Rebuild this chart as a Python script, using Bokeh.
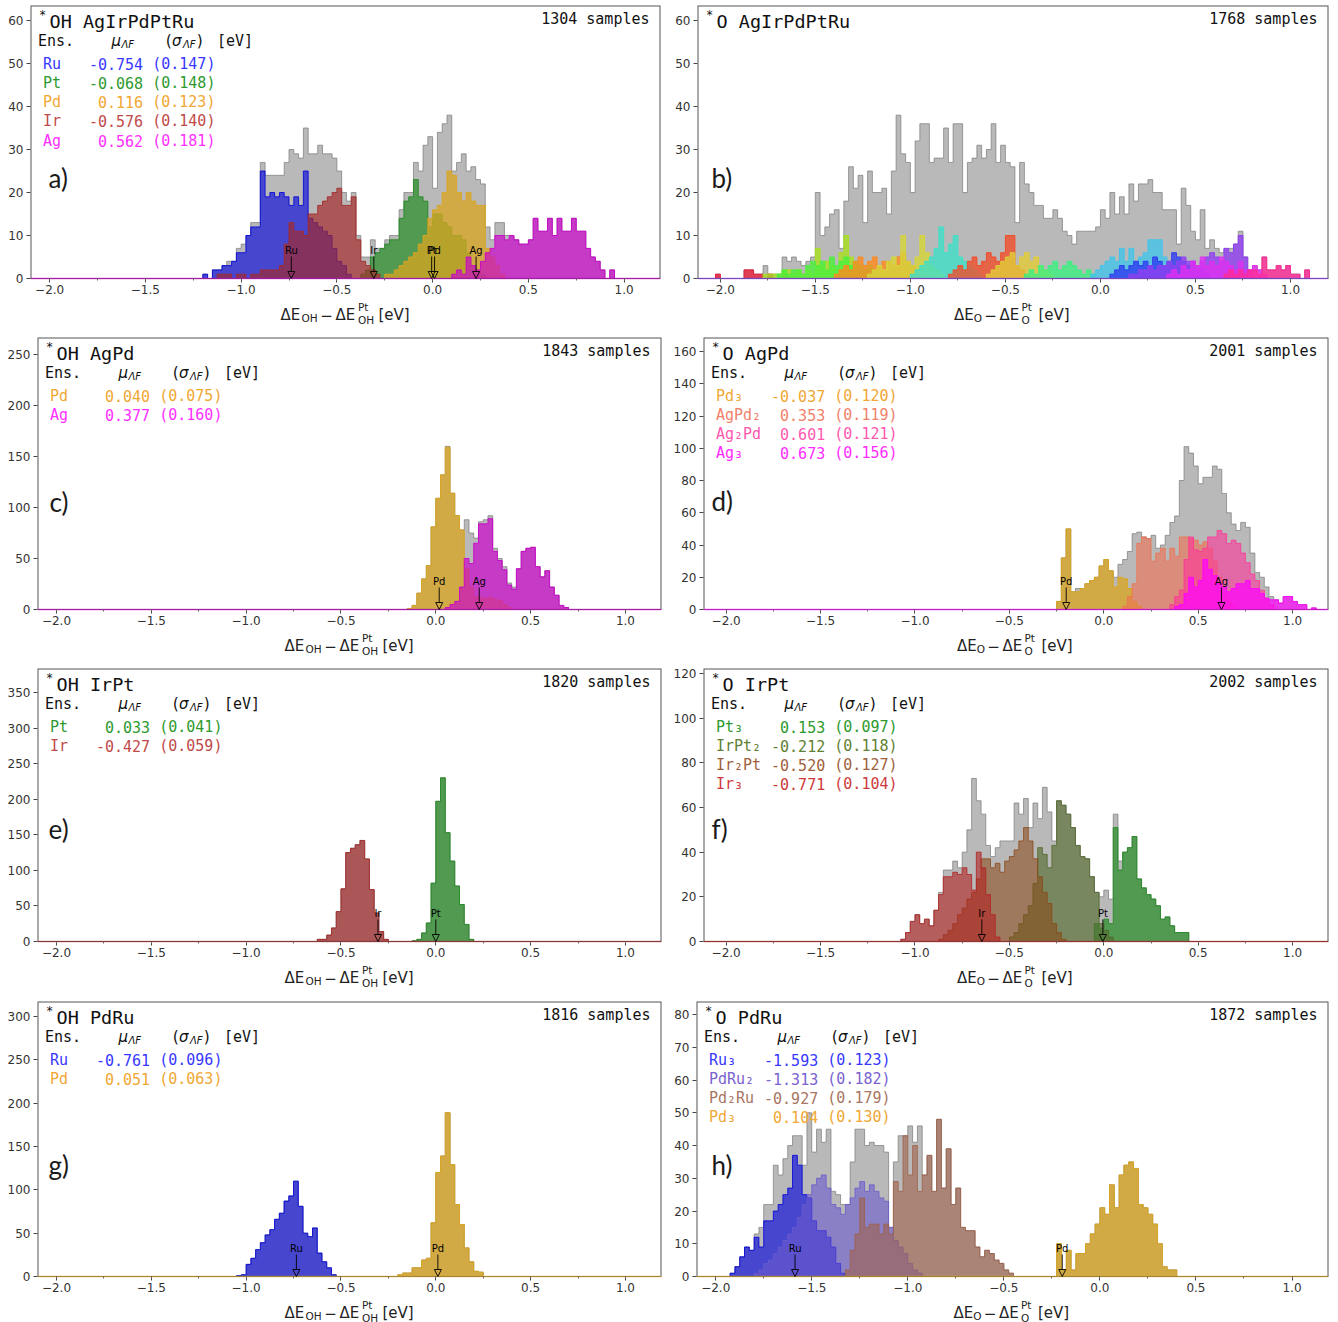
import numpy as np
from bokeh.plotting import figure
from bokeh.layouts import column, row
from bokeh.models import (Range1d, Label, Arrow, NormalHead, FixedTicker,
                          CustomJSTickFormatter)
from bokeh.embed import file_html
from bokeh.resources import INLINE

BIN = 0.025

# ---------------- panel a : *OH AgIrPdPtRu ----------------
A_X0 = -1.2
A_TOTAL = [1,0,2,2,3,4,4,7,8,10, 13,13,27,24,24,24,24,27,30,29,
           28,35,29,29,31,29,29,28,25,20, 18,20,10,5,5,9,7,7,9,10,
           10,16,20,20,27,25,31,33,21,34, 36,38,25,27,29,25,26,23,22,12,
           9,13,13,10,10,9,8,8,9,14, 11,11,14,10,14,11,11,14,11,11,
           7,5,4,2,0,2,0,0]
A_RU_AT = 0
A_RU = [1,0,2,2,3,3,4,6,6,10,12,12,25,19,20,19,20,19,17,19,17,25,14,13,12,11,10,7,4,3,1]
A_PT_AT = 33
A_PT = [1,2,5,6,7,8,9,9,14,18,19,23,19,18,12,15,15,13,12,10,10,9,6,3,2,1]
A_PD_AT = 38
A_PD = [1,1,2,3,4,5,6,8,10,14,16,17,20,25,24,20,18,20,18,17,17,7,5,3,1]
A_IR_AT = 3
A_IR = [1,1,1,0,1,1,0,1,1,2,2,2,2,3,8,13,11,11,10,15,15,17,18,19,20,21,17,17,19,9,4,3,2,1]
A_AG_AT = 52
A_AG = [1,2,1,5,3,2,4,6,7,10,10,9,10,9,8,8,9,14,11,11,14,10,14,11,11,14,11,11,7,5,4,2,0,2]
A_ENS = ["Ru", "Pt", "Pd", "Ir", "Ag"]
A_MU = [-0.754, -0.068, 0.116, -0.576, 0.562]
A_SD = [0.147, 0.148, 0.123, 0.140, 0.181]
A_MARK_NAMES = ["Ru", "Ir", "Pt", "Pd", "Ag"]
A_MARK_X = [-0.738, -0.307, -0.005, 0.010, 0.227]

# ---------------- panel b : *O AgIrPdPtRu ----------------
B_X0 = -2.05
B_TOTAL = [0,1,0,0,0,0,0,2,2,1, 1,3,1,1,1,5,4,5,4,3, 4,5,20,10,12,15,16,7,18,26,
           21,24,13,25,20,20,21,15,25,38, 29,27,20,32,36,36,27,28,28,35,
           27,36,36,20,27,28,31,28,30,36, 27,31,27,26,13,27,22,20,17,17,
           14,14,16,14,11,10,8,11,11,11, 11,12,16,14,20,15,19,15,22,18,
           22,22,23,20,20,16,16,16,8,21, 17,11,9,16,7,9,7,6,5,7,
           8,11,5,2,2,2,5,2,2,3, 2,3,1,1,0,2]
B_E01_AT, B_E01 = 1, [1,0,0,0,0,0,2,2,1,1,0,1,0,0,1]
B_E02_AT, B_E02 = 11, [1,1,1,1,2,2,1,2,1,2,1,7,3,4,3,2,6,10,5,3]
B_E03_AT, B_E03 = 14, [1,2,1,2,2,1,3,4,3,4,2,5,3,4,5,3,4,3,2,3,2,2,1,1]
B_E04_AT, B_E04 = 26, [1,2,3,2,4,5,3,4,5,3,4,4,3,5,6,4,3,2,1]
B_E05_AT, B_E05 = 33, [1,2,3,2,4,5,3,10,4,3,5,10,6,3,2,1]
B_E06_AT, B_E06 = 42, [1,2,3,4,5,7,12,6,8,10,5,4,3,2,1]
B_E07_AT, B_E07 = 50, [1,2,3,2,4,5,3,4,6,5,4,6,10,10,3,2,1]
B_E08_AT, B_E08 = 58, [1,2,3,4,5,6,3,5,6,4,5,3,2,1]
B_E09_AT, B_E09 = 66, [1,2,1,3,2,3,4,2,3,4,3,2,1,2,1]
B_E10_AT, B_E10 = 80, [1,2,3,4,5,4,7,4,7,4,5,6,9,9,9,5,3,1]
B_E11_AT, B_E11 = 84, [1,2,3,2,3,4,3,4,3,5,4,3,4,6,5,4,3,4,2,2,1]
B_E12_AT, B_E12 = 88, [1,1,2,2,3,2,3,3,4,3,4,5,4,4,3,4,5,6,5,4,7,6,8,10,5,2]
B_E13_AT, B_E13 = 96, [1,2,1,3,2,4,3,5,3,4,3,5,4,3,2,4,2,2,3,2,1]
B_E14_AT, B_E14 = 108, [1,2,1,2,1,2,2,1,5,2,2,3,2,3,1,1,0,2]
B_COLORS = ["#e8203c", "#a8e020", "#4cf03c", "#ff8a1e", "#d6d63a", "#3ee0c8", "#f04e2a",
            "#e2cc38", "#3cf080", "#44c4ea", "#2e3cf0", "#9040f0", "#e030f0", "#ff2a96"]

# ---------------- panel c : *OH AgPd ----------------
C_X0 = -0.15
C_TOTAL = [1,4,16,30,43,81,109,132,160,114, 92,72,88,75,70,86,88,92,60,50,
           42,26,22,40,57,60,61,42,32,38, 22,14,4,2]
C_PD_AT = 0
C_PD = [1,4,16,30,43,81,109,132,159,114,92,78,40,22,13,12,11,12,10,9,5,2]
C_AG_AT = 8
C_AG = [2,5,8,22,50,45,65,84,84,89,57,48,39,24,20,40,57,60,61,42,32,38,22,14,4,2]
C_ENS = ["Pd", "Ag"]
C_MU = [0.040, 0.377]
C_SD = [0.075, 0.160]
C_MARK_NAMES = ["Pd", "Ag"]
C_MARK_X = [0.018, 0.229]

# ---------------- panel d : *O AgPd ----------------
D_X0 = -0.25
D_TOTAL = [5,32,50,11,13,13,16,18,20,27, 31,24,20,28,31,36,47,48,44,39,
           46,38,40,46,54,58,80,101,97,89, 78,82,82,89,87,72,60,53,49,54,
           51,35,23,20,14,8,6,4,8,8, 5,3,3,0,1]
D_PD3_AT = 0
D_PD3 = [5,32,50,11,11,13,16,18,20,27,31,24,14,20,19,13,5,2]
D_AGPD2_AT = 14
D_AGPD2 = [2,8,16,41,45,44,30,35,38,30,38,33,45,45,44,43,40,42,38,30,20,10,5,2]
D_AG2PD_AT = 24
D_AG2PD = [3,8,12,31,45,37,36,38,45,45,49,47,41,43,41,35,29,22,18,12,7,3]
D_AG3_AT = 25
D_AG3 = [2,3,10,20,14,18,31,25,21,16,14,11,13,16,16,18,13,13,10,7,6,6,4,8,8,5,3,3,0,1]
D_ENS = ["Pd\u2083", "AgPd\u2082", "Ag\u2082Pd", "Ag\u2083"]
D_MU = [-0.037, 0.353, 0.601, 0.673]
D_SD = [0.120, 0.119, 0.121, 0.156]
D_MARK_NAMES = ["Pd", "Ag"]
D_MARK_X = [-0.199, 0.623]

# ---------------- panel e : *OH IrPt ----------------
E_X0 = -0.625
E_PT_AT = 20
E_PT = [1,3,12,26,82,197,230,153,113,78,52,24,3]
E_IR_AT = 0
E_IR = [3,3,9,19,42,74,125,131,136,142,116,73,40,14,3]
E_ENS = ["Pt", "Ir"]
E_MU = [0.033, -0.427]
E_SD = [0.041, 0.059]
E_MARK_NAMES = ["Ir", "Pt"]
E_MARK_X = [-0.305, 0.0]

# ---------------- panel f : *O IrPt ----------------
F_X0 = -1.075
F_TOTAL = [1,4,9,12,8,10,7,14,22,32, 32,36,33,40,50,73,63,57,43,38,
           42,45,45,45,62,57,64,51,62,55, 69,58,45,63,61,57,51,43,38,37,
           29,22,20,23,19,57,36,40,42,47, 28,24,21,19,16,10,11,7,4,4, 4]
F_PT3_AT = 41
F_PT3 = [8,6,10,8,51,32,40,42,47,28,24,21,19,16,10,11,7,4,4,4]
F_IRPT2_AT = 23
F_IRPT2 = [2,4,8,12,16,26,42,39,33,43,63,61,57,51,43,38,37,29,22,8,5,2]
F_IR2PT_AT = 8
F_IR2PT = [1,3,5,8,12,15,19,22,28,37,37,33,35,31,36,38,41,45,51,45,37,29,22,17,8,4,1]
F_IR3_AT = 0
F_IR3 = [1,4,9,12,8,10,7,14,21,29,29,31,30,33,30,23,40,33,21,12,2]
F_ENS = ["Pt\u2083", "IrPt\u2082", "Ir\u2082Pt", "Ir\u2083"]
F_MU = [0.153, -0.212, -0.520, -0.771]
F_SD = [0.097, 0.118, 0.127, 0.104]
F_MARK_NAMES = ["Ir", "Pt"]
F_MARK_X = [-0.646, -0.005]

# ---------------- panel g : *OH PdRu ----------------
G_X0 = -1.05
G_RU_AT = 0
G_RU = [1,2,14,21,31,39,48,54,66,73,87,93,110,81,50,46,56,27,17,10,2]
G_PD_AT = 34
G_PD = [2,4,4,10,10,19,21,62,120,139,189,129,83,60,33,17,6,5]
G_ENS = ["Ru", "Pd"]
G_MU = [-0.761, 0.051]
G_SD = [0.096, 0.063]
G_MARK_NAMES = ["Ru", "Pd"]
G_MARK_X = [-0.735, 0.011]

# ---------------- panel h : *O PdRu ----------------
H_X0 = -1.925
H_TOTAL = [1,3,6,9,8,13,15,22,22,34, 31,36,40,43,43,34,50,38,45,41,
           45,26,25,22,19,35,45,45,40,41, 40,40,38,15,35,43,43,46,41,46,
           31,37,26,48,27,39,22,27,15,14, 14,9,6,8,7,5,4,2,1]
H_RU3_AT = 0
H_RU3 = [1,3,6,9,8,12,9,17,17,20,22,25,27,37,34,25,24,17,14,14,12,9,4,1]
H_PDRU2_AT = 5
H_PDRU2 = [1,2,4,5,7,9,11,13,15,18,22,25,28,30,31,27,22,21,19,22,24,27,29,26,28,26,24,23,15,11,9,7,4,2,1]
H_PD2RU_AT = 24
H_PD2RU = [2,8,13,24,15,16,16,13,16,13,29,26,43,31,40,26,31,37,26,48,27,39,22,27,15,14,14,9,6,8,7,5,4,2,1]
H_PD3_AT = 68
H_PD3 = [10,2,8,2,7,7,10,13,16,21,19,28,21,31,34,35,33,22,21,19,16,10,3,2,2]
H_ENS = ["Ru\u2083", "PdRu\u2082", "Pd\u2082Ru", "Pd\u2083"]
H_MU = [-1.593, -1.313, -0.927, 0.104]
H_SD = [0.123, 0.182, 0.179, 0.130]
H_MARK_NAMES = ["Ru", "Pd"]
H_MARK_X = [-1.587, -0.196]

SAMPLES = [1304, 1768, 1843, 2001, 1820, 2002, 1816, 1872]

# ---------------- styles ----------------
GRAY = "#7f7f7f"
SPINE = "#555555"
MONO = "DejaVu Sans Mono"
SANS = "DejaVu Sans"
CW = 9.1          # advance of one monospace character at 15px
XMAJ = [-2.0, -1.5, -1.0, -0.5, 0.0, 0.5, 1.0]
XMIN = [-2.0 + 0.25 * i for i in range(13)]


def draw_hist(p, x0, first, counts, color, alpha, lw=1.0):
    c = np.asarray(counts, dtype=float)
    edges = x0 + BIN * (first + np.arange(len(c) + 1))
    xs = np.concatenate([[edges[0]], edges])
    ys = np.concatenate([[0.0], c, [0.0]])
    p.varea_step(x=xs, y1=np.zeros_like(ys), y2=ys, step_mode="after",
                 fill_color=color, fill_alpha=alpha)
    p.step(x=xs, y=ys, mode="after", line_color=color,
           line_alpha=min(1.0, alpha + 0.2), line_width=lw)


def make_total(explicit, ens):
    n = max(f + len(c) for f, c, _, _ in ens)
    if explicit is not None:
        n = max(n, len(explicit))
    tot = np.zeros(n)
    if explicit is None:
        for f, c, _, _ in ens:
            tot[f:f + len(c)] += np.asarray(c, float)
    else:
        tot[:len(explicit)] = explicit
        for f, c, _, _ in ens:
            seg = tot[f:f + len(c)]
            tot[f:f + len(c)] = np.maximum(seg, np.asarray(c, float))
    return tot


def lab(p, text, x, y, size, color="#111111", font=MONO, align="left",
        baseline="middle", style="normal", xu="screen"):
    p.add_layout(Label(x=x, y=y, x_units=xu, y_units="screen", text=text,
                       text_font=font, text_font_size=size, text_color=color,
                       text_align=align, text_baseline=baseline,
                       text_font_style=style))


def xlabel(p, fw, base, sub):
    cx = fw / 2.0
    if sub == "OH":
        st = cx - 65.0
        o = dict(s1=21.0, m=46.0, d2=55.0, sp=77.5, s2=77.5, ev=98.0)
    else:
        st = cx - 59.0
        o = dict(s1=19.7, m=36.5, d2=45.5, sp=67.5, s2=67.5, ev=84.5)
    col = "#222222"
    yb = base - 36.5
    lab(p, "\u0394E", st, yb, "15px", col, SANS, baseline="alphabetic")
    lab(p, sub, st + o["s1"], yb - 3, "10.5px", col, SANS, baseline="alphabetic")
    lab(p, "\u2212", st + o["m"], yb, "15px", col, SANS, align="center", baseline="alphabetic")
    lab(p, "\u0394E", st + o["d2"], yb, "15px", col, SANS, baseline="alphabetic")
    lab(p, "Pt", st + o["sp"], yb + 8.5, "10.5px", col, SANS, baseline="alphabetic")
    lab(p, sub, st + o["s2"], yb - 4.5, "10.5px", col, SANS, baseline="alphabetic")
    lab(p, "[eV]", st + o["ev"], yb, "15px", col, SANS, baseline="alphabetic")


def panel(g, x0, total, ens, rows, pad, sub, alloy, samples, letter, marks,
          line_color):
    fw, fh, base = g["fw"], g["fh"], g["b"]
    FH = fh + base                      # frame also holds the x-axis strip
    ytop = g["ytop"]
    ybot = -ytop * base / fh
    xr = g["xr"]
    p = figure(frame_width=fw, frame_height=FH,
               x_range=Range1d(*xr), y_range=Range1d(ybot, ytop),
               min_border_left=g["l"], min_border_right=g["r"],
               min_border_top=g["t"], min_border_bottom=0,
               output_backend="svg", toolbar_location=None, tools="")
    p.grid.visible = False
    p.outline_line_color = None
    p.background_fill_color = "white"
    p.border_fill_color = "white"
    for ax in (p.xaxis[0], p.yaxis[0]):
        ax.axis_line_color = None
        ax.major_tick_line_color = "#444444"
        ax.major_tick_out = 4
        ax.major_tick_in = 0
        ax.minor_tick_in = 0
        ax.minor_tick_out = 2
        ax.minor_tick_line_color = "#666666"
        ax.major_label_text_font = SANS
        ax.major_label_text_font_size = "12px"
        ax.major_label_text_color = "#333333"
        ax.major_label_standoff = 2
    p.xaxis[0].fixed_location = 0
    p.xaxis[0].ticker = FixedTicker(ticks=XMAJ, minor_ticks=XMIN)
    p.xaxis[0].formatter = CustomJSTickFormatter(
        code="return (tick < 0 ? '\u2212' : '') + Math.abs(tick).toFixed(1);")
    p.yaxis[0].ticker = FixedTicker(ticks=list(range(0, int(ytop) + 1, g["yint"])))
    p.yaxis[0].minor_tick_line_color = None
    p.yaxis[0].major_label_standoff = 3

    tot = make_total(total, ens)
    draw_hist(p, x0, 0, tot, GRAY, 0.55)
    for f, c, colr, a in ens:
        draw_hist(p, x0, f, c, colr, a)

    # axes box (spines): left, top, right at the frame edges, bottom at y = 0
    p.line(x=[xr[0], xr[0], xr[1], xr[1]], y=[0, ytop, ytop, 0],
           line_color=SPINE, line_width=2)
    p.segment(x0=[xr[0]], y0=[0], x1=[xr[1]], y1=[0], line_color=SPINE, line_width=1)
    p.segment(x0=[xr[0]], y0=[0], x1=[xr[1]], y1=[0], line_color=line_color,
              line_alpha=0.6, line_width=1.3)

    # title & legend block
    lab(p, "*", 8.5, FH - 9, "12px", "#111111", MONO)
    lab(p, sub + " " + alloy, 19, FH - 15.5, "18.5px", "#111111", MONO)
    lab(p, "%d samples" % samples, fw - 11, FH - 13, "15px", "#111111", MONO, align="right")
    if rows:
        ex = 7.5
        yh = FH - 35
        lab(p, "Ens.", ex, yh, "15px", "#111111", MONO)
        lab(p, "\u03bc", ex + 73.5, yh, "15px", "#111111", SANS, style="italic")
        lab(p, "\u039bF", ex + 83.5, yh - 4, "10px", "#111111", SANS, style="italic")
        lab(p, "(", ex + 126, yh, "15px", "#111111", MONO)
        lab(p, "\u03c3", ex + 134, yh, "15px", "#111111", SANS, style="italic")
        lab(p, "\u039bF", ex + 145, yh - 4, "10px", "#111111", SANS, style="italic")
        lab(p, ")", ex + 157.5, yh, "15px", "#111111", MONO)
        lab(p, "[eV]", ex + 179, yh, "15px", "#111111", MONO)
        rx = 12.5
        for k, (nm, mu, sd, tc) in enumerate(rows):
            yy = FH - 58 - 19.3 * k
            lab(p, nm, rx, yy, "15px", tc, MONO)
            lab(p, f"{mu:.3f}", rx + (pad + 6) * CW, yy, "15px", tc, MONO, align="right")
            lab(p, f"({sd:.3f})", rx + (pad + 7) * CW, yy, "15px", tc, MONO)
    lab(p, letter, g["lx"], FH - g["lt"], "26px", "#1a1a1a", "Lato")

    # reference markers
    for nm, xv in marks:
        lab(p, nm, xv, base + 28.5, "10px", "#000000", SANS, align="center", xu="data")
        ys = ytop * 22.0 / fh
        p.add_layout(Arrow(end=NormalHead(size=7, fill_alpha=0, line_color="black",
                                          line_width=0.9),
                           x_start=xv, y_start=ys, x_end=xv, y_end=0,
                           line_color="black", line_width=0.9))
    xlabel(p, fw, base, sub)
    return p


# colours (fill, alpha) and legend text colours
RU, PT, PD, IR, AG = "#0000dd", "#228b22", "#daa520", "#a52a2a", "#cc00cc"
RU_T, PT_T, PD_T, IR_T, AG_T = "#3838ff", "#2e9a2e", "#f0a733", "#bf4a4a", "#ff30ff"

G_A = dict(xr=(-2.1, 1.19), ytop=63.5, yint=10, fw=630, fh=273, l=30, r=5, t=5, b=52, lx=18, lt=172)
G_B = dict(xr=(-2.12, 1.2), ytop=63.5, yint=10, fw=631, fh=273, l=32, r=10, t=5, b=52, lx=14, lt=172)
G_C = dict(xr=(-2.1, 1.19), ytop=266.7, yint=50, fw=624, fh=272, l=37, r=4, t=7, b=51, lx=12, lt=164)
G_D = dict(xr=(-2.12, 1.19), ytop=168.7, yint=20, fw=625, fh=272, l=38, r=10, t=7, b=51, lx=8, lt=163)
G_E = dict(xr=(-2.1, 1.19), ytop=383.7, yint=50, fw=624, fh=273, l=37, r=4, t=8, b=54, lx=11, lt=160)
G_F = dict(xr=(-2.12, 1.19), ytop=122.2, yint=20, fw=625, fh=273, l=38, r=10, t=8, b=54, lx=8, lt=160)
G_G = dict(xr=(-2.1, 1.19), ytop=317.3, yint=50, fw=624, fh=275, l=37, r=4, t=6, b=46, lx=11, lt=163)
G_H = dict(xr=(-2.1, 1.19), ytop=84.0, yint=10, fw=632, fh=275, l=31, r=10, t=6, b=46, lx=15, lt=163)

pa = panel(G_A, A_X0, A_TOTAL,
           [(A_RU_AT, A_RU, RU, 0.62), (A_PT_AT, A_PT, PT, 0.68), (A_PD_AT, A_PD, PD, 0.75),
            (A_IR_AT, A_IR, IR, 0.68), (A_AG_AT, A_AG, AG, 0.68)],
           list(zip(A_ENS, A_MU, A_SD, [RU_T, PT_T, PD_T, IR_T, AG_T])), 5,
           "OH", "AgIrPdPtRu", SAMPLES[0], "a)", list(zip(A_MARK_NAMES, A_MARK_X)), AG)

b_ens = [(B_E01_AT, B_E01), (B_E02_AT, B_E02), (B_E03_AT, B_E03), (B_E04_AT, B_E04),
         (B_E05_AT, B_E05), (B_E06_AT, B_E06), (B_E07_AT, B_E07), (B_E08_AT, B_E08),
         (B_E09_AT, B_E09), (B_E10_AT, B_E10), (B_E11_AT, B_E11), (B_E12_AT, B_E12),
         (B_E13_AT, B_E13), (B_E14_AT, B_E14)]
pb = panel(G_B, B_X0, B_TOTAL,
           [(f, c, col, 0.8) for (f, c), col in zip(b_ens, B_COLORS)],
           [], 6, "O", "AgIrPdPtRu", SAMPLES[1], "b)", [], "#9040f0")

pc = panel(G_C, C_X0, C_TOTAL,
           [(C_PD_AT, C_PD, PD, 0.75), (C_AG_AT, C_AG, AG, 0.68)],
           list(zip(C_ENS, C_MU, C_SD, [PD_T, AG_T])), 5,
           "OH", "AgPd", SAMPLES[2], "c)", list(zip(C_MARK_NAMES, C_MARK_X)), AG)

pd_ = panel(G_D, D_X0, D_TOTAL,
            [(D_PD3_AT, D_PD3, PD, 0.75), (D_AGPD2_AT, D_AGPD2, "#f07050", 0.6),
             (D_AG2PD_AT, D_AG2PD, "#ff3399", 0.6), (D_AG3_AT, D_AG3, "#ff00ff", 0.7)],
            list(zip(D_ENS, D_MU, D_SD, [PD_T, "#f0826a", "#ff58b0", "#ff2cff"])), 6,
            "O", "AgPd", SAMPLES[3], "d)", list(zip(D_MARK_NAMES, D_MARK_X)), "#ff00ff")

pe = panel(G_E, E_X0, None,
           [(E_PT_AT, E_PT, PT, 0.68), (E_IR_AT, E_IR, IR, 0.68)],
           list(zip(E_ENS, E_MU, E_SD, [PT_T, IR_T])), 5,
           "OH", "IrPt", SAMPLES[4], "e)", list(zip(E_MARK_NAMES, E_MARK_X)), IR)

pf = panel(G_F, F_X0, F_TOTAL,
           [(F_PT3_AT, F_PT3, PT, 0.68), (F_IRPT2_AT, F_IRPT2, "#556b2f", 0.65),
            (F_IR2PT_AT, F_IR2PT, "#8b4513", 0.55), (F_IR3_AT, F_IR3, "#b22222", 0.6)],
           list(zip(F_ENS, F_MU, F_SD, [PT_T, "#5f7f33", "#a0603c", "#cc3b3b"])), 6,
           "O", "IrPt", SAMPLES[5], "f)", list(zip(F_MARK_NAMES, F_MARK_X)), "#b22222")

pg = panel(G_G, G_X0, None,
           [(G_RU_AT, G_RU, RU, 0.62), (G_PD_AT, G_PD, PD, 0.75)],
           list(zip(G_ENS, G_MU, G_SD, [RU_T, PD_T])), 5,
           "OH", "PdRu", SAMPLES[6], "g)", list(zip(G_MARK_NAMES, G_MARK_X)), PD)

ph = panel(G_H, H_X0, H_TOTAL,
           [(H_RU3_AT, H_RU3, RU, 0.62), (H_PDRU2_AT, H_PDRU2, "#6a5acd", 0.6),
            (H_PD2RU_AT, H_PD2RU, "#a0604a", 0.6), (H_PD3_AT, H_PD3, PD, 0.75)],
           list(zip(H_ENS, H_MU, H_SD, [RU_T, "#7a62d0", "#a87662", PD_T])), 6,
           "O", "PdRu", SAMPLES[7], "h)", list(zip(H_MARK_NAMES, H_MARK_X)), PD)

layout = column(row(pa, pb), row(pc, pd_), row(pe, pf), row(pg, ph))
open("out.html", "w").write(file_html(layout, INLINE))
